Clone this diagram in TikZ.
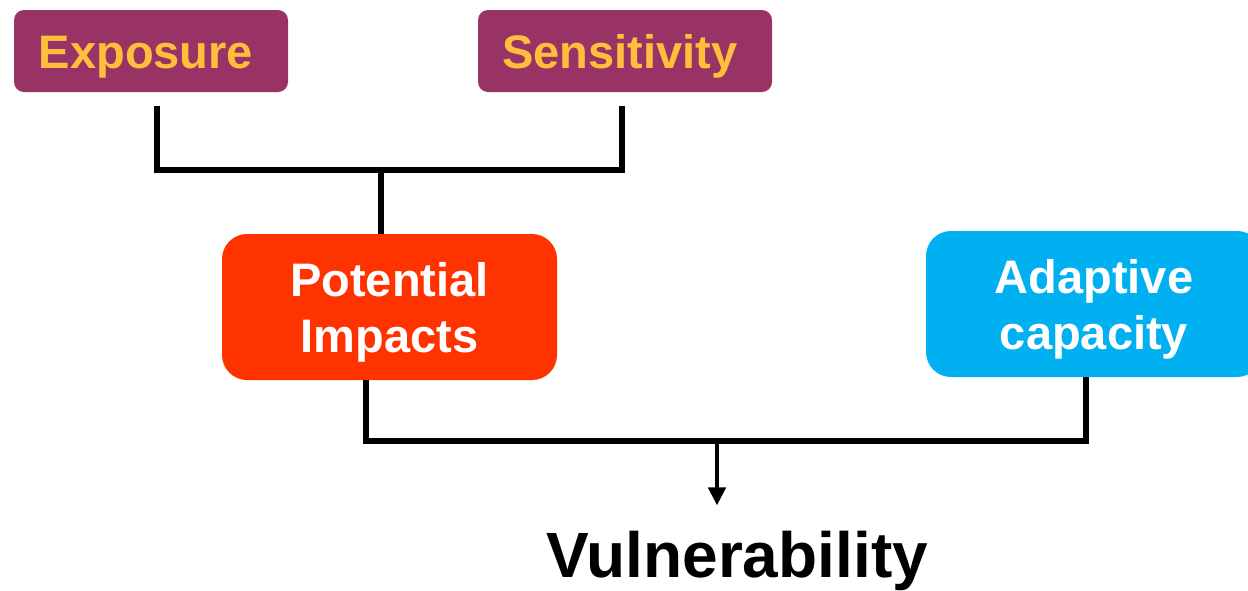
\documentclass[tikz,border=0pt]{standalone}
\usepackage{fontspec}
\setmainfont{Liberation Sans}
\usetikzlibrary{arrows.meta}
\definecolor{boxpurple}{HTML}{993366}
\definecolor{boxgold}{HTML}{FFBF3C}
\definecolor{boxred}{HTML}{FF3300}
\definecolor{boxblue}{HTML}{00B0F0}
\tikzset{
  topbox/.style={rectangle, rounded corners=10pt, fill=boxpurple, text=boxgold,
    font=\fontsize{47}{55}\selectfont\bfseries, inner sep=0pt, text height=34pt, text depth=0pt},
  midbox/.style={rectangle, rounded corners=25pt, text=white, align=center,
    font=\fontsize{47}{56}\selectfont\bfseries, inner sep=0pt, text depth=0pt},
  conn/.style={line width=5.5pt, line join=miter, line cap=butt},
}
\begin{document}
\begin{tikzpicture}[x=1pt,y=-1pt]
\useasboundingbox (0,0) rectangle (1248,590);
\clip (0,0) rectangle (1248,590);
\node[topbox, minimum width=274pt, minimum height=82pt] (expo) at (151,51) {Exposure\hspace*{10pt}};
\node[topbox, minimum width=294pt, minimum height=82pt] (sens) at (625,51) {Sensitivity\hspace*{10pt}};
\node[midbox, fill=boxred, minimum width=335pt, minimum height=146pt] (pot) at (389.5,307) {Potential\\Impacts};
\node[midbox, fill=boxblue, minimum width=336pt, minimum height=146pt] (adap) at (1094,304) {Adaptive\\capacity};
\node[anchor=base, inner sep=0pt, font=\fontsize{64}{70}\selectfont\bfseries] (vuln) at (737,577) {Vulnerability};
% top bracket
\coordinate (ea) at (157,106);
\coordinate (eb) at (157,170);
\coordinate (sb) at (622,170);
\coordinate (sa) at (622,106);
\coordinate (jt) at (381,170);
\draw[conn] (ea) -- (eb) -- (sb) -- (sa);
\draw[conn] (jt) -- (jt |- pot.north);
% bottom bracket
\coordinate (pa) at (366,380);
\coordinate (pb) at (366,441);
\coordinate (ab) at (1086,441);
\coordinate (aa) at (1086,377);
\coordinate (jb) at (717,441);
\draw[conn] (pa) -- (pb) -- (ab) -- (aa);
\draw[line width=4.5pt, -{Triangle[length=18pt,width=17pt]}] (jb) -- ([yshift=25pt]jb |- vuln.north);
\end{tikzpicture}
\end{document}
